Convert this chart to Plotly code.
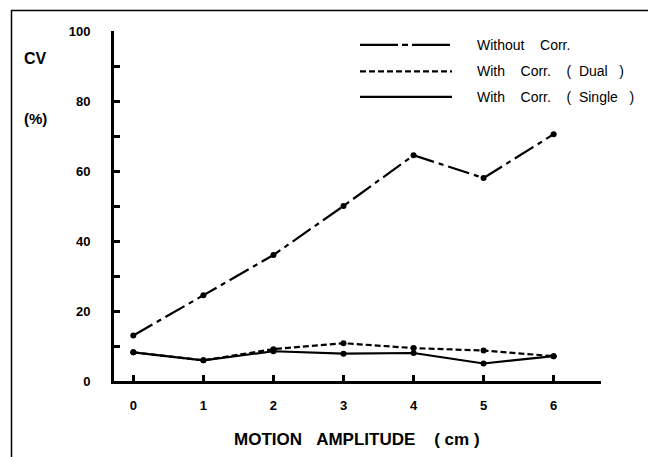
import plotly.graph_objects as go

amplitude = [0, 1, 2, 3, 4, 5, 6]
without_corr = [13, 24.5, 36, 50, 64.5, 58, 70.5]
with_corr_dual = [8.2, 5.9, 9.1, 10.8, 9.4, 8.7, 7.1]
with_corr_single = [8.2, 5.9, 8.5, 7.8, 8.0, 5.0, 7.1]
NB = "\u00a0"
series_names = ["Without" + NB * 4 + "Corr.",
                "With" + NB * 4 + "Corr." + NB * 4 + "(" + NB * 2 + "Dual" + NB * 3 + ")",
                "With" + NB * 4 + "Corr." + NB * 4 + "(" + NB * 2 + "Single" + NB * 3 + ")"]
y_tick_vals = [0, 20, 40, 60, 80, 100]
x_tick_labels = ["0", "1", "2", "3", "4", "5", "6"]
x_title = "MOTION" + NB * 3 + "AMPLITUDE" + NB * 4 + "(" + NB + "cm" + NB + ")"

FONT = "Liberation Sans, Arial, sans-serif"
OFF = 8  # page body margin
W, H = 656 - OFF, 457 - OFF
ML, MR, MT, MB = 114 - OFF, 55, 30.5 - OFF, 75.5
PW, PH = W - ML - MR, H - MT - MB


def px(x):
    return (x - OFF - ML) / PW


def py(y):
    return (H - MB - (y - OFF)) / PH


dashes = ["22px,5px,5px,5px", "6px,3px", "solid"]
legend_dashes = ["38px,4px,6px,4px", "6px,3px", "solid"]
series = [without_corr, with_corr_dual, with_corr_single]

fig = go.Figure()
for name, vals, d in zip(series_names, series, dashes):
    fig.add_trace(go.Scatter(
        x=amplitude, y=vals, mode="lines+markers", name=name,
        line=dict(color="black", width=2.2, dash=d),
        marker=dict(color="black", size=6),
        showlegend=False,
    ))

shapes = []
annotations = []
ys_px = [44.5, 71, 96.5]
for name, d, ypx in zip(series_names, legend_dashes, ys_px):
    shapes.append(dict(type="line", xref="paper", yref="paper",
                       x0=px(360), x1=px(452), y0=py(ypx), y1=py(ypx),
                       line=dict(color="black", width=2.2, dash=d)))
    annotations.append(dict(text=name, xref="paper", yref="paper",
                            x=px(475), y=py(ypx), xanchor="left", yanchor="middle",
                            showarrow=False,
                            font=dict(family=FONT, size=14, color="black")))

# outer border
shapes.append(dict(type="rect", xref="paper", yref="paper",
                   x0=px(11.5), x1=px(651), y0=py(470), y1=py(10),
                   line=dict(color="black", width=1.5)))

annotations += [
    dict(text="<b>CV</b>", xref="paper", yref="paper", x=px(35), y=py(58),
         xanchor="center", yanchor="middle", showarrow=False,
         font=dict(family=FONT, size=16, color="black")),
    dict(text="<b>(%)</b>", xref="paper", yref="paper", x=px(35), y=py(118),
         xanchor="center", yanchor="middle", showarrow=False,
         font=dict(family=FONT, size=15, color="black")),
    dict(text="<b>" + x_title + "</b>",
         xref="paper", yref="paper", x=px(357), y=py(440),
         xanchor="center", yanchor="middle", showarrow=False,
         font=dict(family=FONT, size=17, color="black")),
]

fig.update_layout(
    width=W, height=H,
    margin=dict(l=ML, r=MR, t=MT, b=MB, autoexpand=False),
    paper_bgcolor="white", plot_bgcolor="white",
    shapes=shapes, annotations=annotations,
    font=dict(family=FONT, size=13, color="black"),
    xaxis=dict(range=[-0.276, 6.676], tickvals=amplitude, ticktext=x_tick_labels,
               showline=True, linecolor="black", linewidth=3,
               ticks="inside", ticklen=6, tickwidth=3, tickcolor="black",
               showgrid=False, zeroline=False, ticklabelstandoff=10,
               tickfont=dict(family=FONT, size=13, color="black", weight="bold")),
    yaxis=dict(range=[0, 100], tickvals=y_tick_vals,
               showline=True, linecolor="black", linewidth=3,
               ticks="inside", ticklen=6, tickwidth=3, tickcolor="black",
               minor=dict(dtick=10, ticks="inside", ticklen=6, tickwidth=3,
                          tickcolor="black", showgrid=False),
               showgrid=False, zeroline=False, ticklabelstandoff=18,
               tickfont=dict(family=FONT, size=13, color="black", weight="bold")),
)

fig.write_html("out.html")
